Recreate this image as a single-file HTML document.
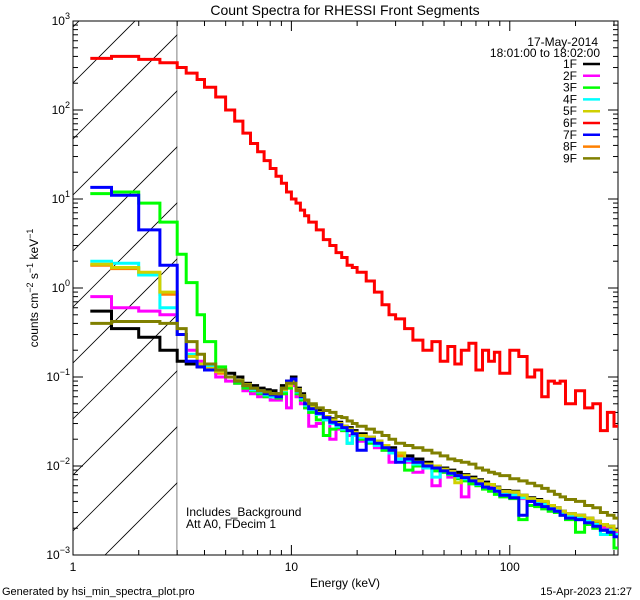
<!DOCTYPE html>
<html><head><meta charset="utf-8">
<style>
html,body{margin:0;padding:0;background:#fff;}
svg{display:block;font-family:"Liberation Sans",sans-serif;}
</style></head>
<body>
<svg id="chart" width="640" height="600" viewBox="0 0 640 600" xmlns="http://www.w3.org/2000/svg">
<rect width="640" height="600" fill="#fff"/>
<text x="345" y="15" font-size="14" text-anchor="middle">Count Spectra for RHESSI Front Segments</text>
<g id="hatch"></g>
<g id="axes"></g>
<g id="series"></g>
<g id="legend"></g>
<text transform="translate(38,288) rotate(-90)" font-size="12" text-anchor="middle">counts cm<tspan dy="-5" font-size="9">−2</tspan><tspan dy="5"> s</tspan><tspan dy="-5" font-size="9">−1</tspan><tspan dy="5"> keV</tspan><tspan dy="-5" font-size="9">−1</tspan></text>
<text x="345" y="587" font-size="12" text-anchor="middle">Energy (keV)</text>
<text x="186" y="516" font-size="12">Includes_Background</text>
<text x="186" y="528" font-size="12">Att A0, FDecim 1</text>
<text x="2" y="595" font-size="11">Generated by hsi_min_spectra_plot.pro</text>
<text x="632" y="595" font-size="11" text-anchor="end">15-Apr-2023 21:27</text>
</svg>
<script>
const NS='http://www.w3.org/2000/svg';
const edges=[1.2,1.5,2,2.5,3,3.3,3.7,4,4.5,5,5.5,6,6.5,7,7.5,8,8.5,9,9.5,10,10.5,11,11.5,12,13,14,15,16,17,18,19,20,22,24,26,28,30,33,36,40,44,48,52,56,60,65,70,75,80,85,90,100,110,120,130,140,150,160,170,180,200,220,240,260,280,300,313];
const labels=['1F','2F','3F','4F','5F','6F','7F','8F','9F'];
const colors=['#000000','#ff00ff','#00ff00','#00ffff','#d0d000','#ff0000','#0000ff','#ff8000','#808000'];
const drawOrder=[7,0,1,2,3,4,5,6,8];
const s1=[0.55,0.35,0.28,0.2,0.15,0.14,0.13,0.12,
0.12,0.11,0.1,0.085,0.08,0.075,0.072,0.07,0.065,0.08,
0.09,0.1,0.075,0.065,0.055,0.048,0.042,0.036,0.034,0.031,
0.028,0.027,0.025,0.023,0.021,0.019,0.017,0.016,0.014,0.013,
0.012,0.011,0.01,0.0095,0.009,0.0085,0.008,0.0075,0.007,0.0066,
0.0062,0.0058,0.0053,0.0052,0.0047,0.0044,0.0042,0.0039,0.0036,0.0034,
0.0031,0.0029,0.0028,0.0026,0.0024,0.0022,0.0021,0.0019];
const s2=[0.8,0.6,0.55,0.5,0.3,0.2,0.15,0.12,
0.1,0.09,0.085,0.07,0.065,0.06,0.06,0.055,0.055,0.065,
0.045,0.08,0.06,0.05,0.045,0.028,0.03,0.033,0.02,0.026,
0.025,0.022,0.023,0.019,0.019,0.016,0.015,0.011,0.012,0.011,
0.0085,0.0095,0.006,0.0085,0.0075,0.0078,0.0045,0.0066,0.0062,0.0058,
0.0057,0.0052,0.0048,0.0046,0.0043,0.004,0.0038,0.0036,0.0033,0.0031,
0.0029,0.0027,0.0025,0.0024,0.0022,0.002,0.0019,0.0018];
const s3=[11.5,12,9,5.5,2.4,1.15,0.5,0.25,
0.13,0.1,0.085,0.075,0.07,0.065,0.06,0.06,0.058,0.065,
0.075,0.085,0.065,0.055,0.045,0.04,0.033,0.022,0.026,0.027,
0.025,0.018,0.022,0.02,0.018,0.017,0.015,0.014,0.012,0.009,
0.01,0.0095,0.0088,0.0085,0.008,0.0072,0.0068,0.0063,0.006,0.0055,
0.0052,0.0048,0.0045,0.0043,0.0025,0.0036,0.0035,0.0033,0.0031,0.003,
0.0028,0.0025,0.0018,0.0022,0.002,0.0019,0.0017,0.0012];
const s4=[2.0,1.9,1.4,0.6,0.3,0.18,0.14,0.13,
0.12,0.1,0.09,0.08,0.072,0.068,0.063,0.06,0.06,0.07,
0.08,0.09,0.068,0.058,0.048,0.043,0.038,0.033,0.03,0.028,
0.026,0.018,0.022,0.021,0.019,0.017,0.016,0.014,0.012,0.0115,
0.0105,0.0095,0.0075,0.0088,0.0082,0.0075,0.0072,0.0068,0.0062,0.0058,
0.0056,0.0053,0.0048,0.0047,0.0044,0.0041,0.0038,0.0037,0.0034,0.0032,
0.0029,0.0027,0.0026,0.0024,0.0022,0.0017,0.0019,0.0017];
const s5=[1.85,1.7,1.5,0.9,0.3,0.17,0.14,0.125,
0.115,0.1,0.092,0.082,0.075,0.07,0.066,0.065,0.062,0.072,
0.08,0.09,0.072,0.062,0.05,0.046,0.04,0.036,0.033,0.03,
0.028,0.026,0.024,0.022,0.021,0.019,0.017,0.015,0.014,0.012,
0.011,0.0105,0.01,0.0092,0.0087,0.0065,0.0078,0.0072,0.0068,0.0063,
0.0062,0.0057,0.0052,0.0051,0.0047,0.0043,0.0041,0.004,0.0036,0.0034,
0.0031,0.0029,0.0028,0.0026,0.0024,0.0022,0.0021,0.0019];
const s6=[380,400,370,340,300,260,220,180,
140,100,75,55,42,34,27,22,18,15,
12,10,9,7.5,6.5,5.5,4.5,3.5,3,2.5,
2.2,1.8,1.7,1.5,1.2,0.9,0.65,0.5,0.45,0.35,
0.26,0.2,0.25,0.15,0.22,0.14,0.2,0.24,0.12,0.2,
0.15,0.19,0.11,0.2,0.17,0.1,0.12,0.06,0.09,0.085,
0.09,0.05,0.07,0.045,0.05,0.025,0.04,0.028];
const s7=[13.5,11,4.5,1.8,0.3,0.15,0.13,0.12,
0.12,0.1,0.09,0.08,0.075,0.07,0.065,0.063,0.06,0.075,
0.09,0.095,0.07,0.06,0.05,0.044,0.039,0.035,0.031,0.029,
0.027,0.025,0.023,0.015,0.02,0.018,0.016,0.015,0.011,0.012,
0.011,0.01,0.0095,0.0088,0.0083,0.0078,0.0074,0.0068,0.0063,0.0058,
0.0056,0.0052,0.0047,0.0044,0.0028,0.004,0.0037,0.0035,0.0033,0.0031,
0.0028,0.0026,0.0025,0.0023,0.0021,0.0019,0.0018,0.0016];
const s8=[1.8,1.65,1.45,0.85,0.3,0.17,0.14,0.12,
0.11,0.1,0.09,0.08,0.073,0.068,0.064,0.062,0.06,0.07,
0.078,0.088,0.07,0.06,0.049,0.045,0.039,0.035,0.032,0.029,
0.027,0.025,0.023,0.021,0.02,0.018,0.016,0.015,0.013,0.012,
0.011,0.01,0.0095,0.009,0.0085,0.008,0.0075,0.007,0.0066,0.0061,
0.006,0.0055,0.005,0.005,0.0046,0.0042,0.004,0.0038,0.0035,0.0033,
0.003,0.0028,0.0027,0.0025,0.0023,0.0021,0.002,0.0018];
const s9=[0.4,0.42,0.42,0.4,0.35,0.25,0.18,0.14,
0.12,0.1,0.09,0.08,0.075,0.07,0.068,0.065,0.065,0.075,
0.085,0.085,0.07,0.062,0.055,0.05,0.045,0.042,0.04,0.036,
0.035,0.032,0.03,0.028,0.026,0.024,0.022,0.02,0.018,0.017,
0.016,0.015,0.014,0.013,0.012,0.0115,0.011,0.0105,0.0095,0.009,
0.0085,0.0082,0.0078,0.0072,0.0068,0.0064,0.006,0.0056,0.0052,0.0048,
0.0045,0.0042,0.004,0.0036,0.0034,0.003,0.0028,0.0026];
const seriesList=[s1,s2,s3,s4,s5,s6,s7,s8,s9];
const xTickVals=[1,10,100];
const xTickLabels=['1','10','100'];
const yExps=[-3,-2,-1,0,1,2];
const yTopExp=3;

const L=73,R=618,T=21,B=555;
const xMin=1,xMax=313,yMinE=-3,yMaxE=3;
function xs(e){return L+(Math.log10(e)-Math.log10(xMin))/(Math.log10(xMax)-Math.log10(xMin))*(R-L);}
function ys(v){return B-(Math.log10(v)-yMinE)/(yMaxE-yMinE)*(B-T);}
function mk(tag,attrs,parent){const e=document.createElementNS(NS,tag);for(const k in attrs)e.setAttribute(k,attrs[k]);parent.appendChild(e);return e;}

const svg=document.getElementById('chart');
const defs=mk('defs',{},svg);
const cp=mk('clipPath',{id:'plotclip'},defs);
mk('rect',{x:L,y:T,width:R-L,height:B-T},cp);
const hc=mk('clipPath',{id:'hatchclip'},defs);
mk('rect',{x:L,y:T,width:xs(3)-L,height:B-T},hc);

const hatch=document.getElementById('hatch');
hatch.setAttribute('clip-path','url(#hatchclip)');
for(let k=-2;k<10;k++){
  const y0=83+56*k;
  const ln=mk('line',{x1:L,y1:y0,x2:L+600,y2:y0-600,stroke:'#000','stroke-width':0.8},hatch);
  
  
}
const vl=mk('line',{x1:xs(3),y1:T,x2:xs(3),y2:B,stroke:'#000','stroke-width':1},hatch);



const axes=document.getElementById('axes');
const frame=mk('rect',{x:L,y:T,width:R-L,height:B-T,fill:'none',stroke:'#000','stroke-width':1},axes);


for(let d=1;d<=100;d*=10){
  for(let m=1;m<10;m++){
    const e=d*m; if(e<xMin||e>xMax) continue;
    const x=xs(e), len=(m===1)?10:5;
    mk('line',{x1:x,y1:B,x2:x,y2:B-len,stroke:'#000'},axes);
    mk('line',{x1:x,y1:T,x2:x,y2:T+len,stroke:'#000'},axes);
  }
}
xTickVals.forEach((v,i)=>{
  const t=mk('text',{x:xs(v),y:B+16,'font-size':12,'text-anchor':'middle'},axes);
  t.textContent=xTickLabels[i];
  
  
});
for(let p=yMinE;p<yMaxE;p++){
  for(let m=1;m<10;m++){
    const v=m*Math.pow(10,p); const y=ys(v), len=(m===1)?10:5;
    mk('line',{x1:L,y1:y,x2:L+len,y2:y,stroke:'#000'},axes);
    mk('line',{x1:R,y1:y,x2:R-len,y2:y,stroke:'#000'},axes);
  }
}
yExps.concat([yTopExp]).forEach(p=>{
  const y=ys(Math.pow(10,p));
  const t=mk('text',{x:L-3,y:y+4,'font-size':12,'text-anchor':'end'},axes);
  
  
  const a=document.createElementNS(NS,'tspan');a.textContent='10';t.appendChild(a);
  const b=document.createElementNS(NS,'tspan');b.setAttribute('dy','-6');b.setAttribute('font-size','9');b.textContent=String(p).replace('-','−');t.appendChild(b);
});

const sg=document.getElementById('series');
sg.setAttribute('clip-path','url(#plotclip)');
drawOrder.forEach(si=>{
  const vals=seriesList[si];
  let d='';
  for(let i=0;i<vals.length&&i<edges.length-1;i++){
    const y=ys(vals[i]);
    d+=(i===0?'M':'L')+xs(edges[i]).toFixed(1)+','+y.toFixed(1)+'L'+xs(edges[i+1]).toFixed(1)+','+y.toFixed(1);
  }
  const p=mk('path',{d:d,fill:'none',stroke:colors[si],'stroke-width':3,'stroke-linejoin':'miter'},sg);
  
  
});

const lg=document.getElementById('legend');
const t1=mk('text',{x:598,y:46,'font-size':12,'text-anchor':'end'},lg);t1.textContent='17-May-2014';


const t2=mk('text',{x:600,y:57,'font-size':12,'text-anchor':'end'},lg);t2.textContent='18:01:00 to 18:02:00';


labels.forEach((lb,i)=>{
  const y=64+i*11.8;
  const g=mk('g',{},lg);
  
  
  const t=mk('text',{x:577,y:y+4,'font-size':12,'text-anchor':'end'},g);t.textContent=lb;
  mk('line',{x1:583,y1:y,x2:600,y2:y,stroke:colors[i],'stroke-width':2.5},g);
});
</script>
</body></html>
